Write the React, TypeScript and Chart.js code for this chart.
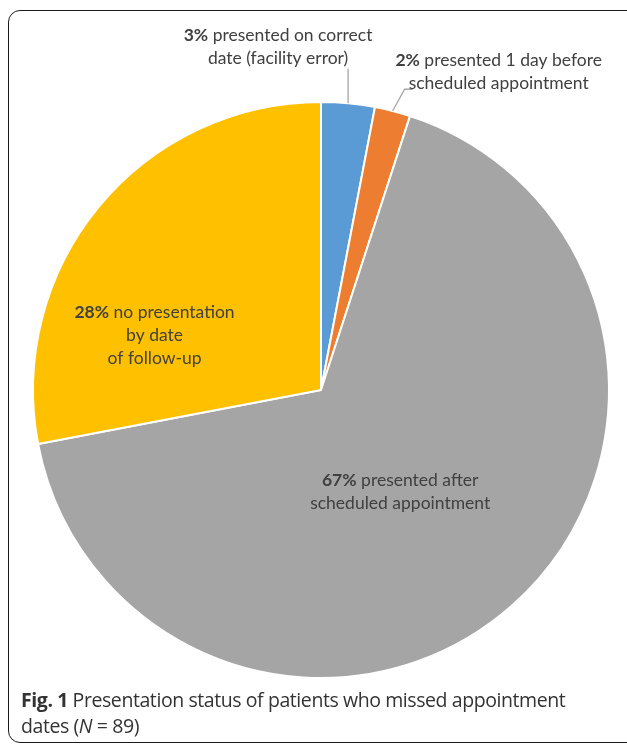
import React, { useEffect, useRef } from "react";
import { Chart, registerables } from "chart.js";

Chart.register(...registerables);

const categories = [
  "presented on correct date (facility error)",
  "presented 1 day before scheduled appointment",
  "presented after scheduled appointment",
  "no presentation by date of follow-up",
];
const values = [3, 2, 67, 28];
const percentLabels = ["3%", "2%", "67%", "28%"];
const labelLines = [
  ["presented on correct", "date (facility error)"],
  ["presented 1 day before", "scheduled appointment"],
  ["presented after", "scheduled appointment"],
  ["no presentation", "by date", "of follow-up"],
];
const colors = ["#5B9BD5", "#ED7D31", "#A5A5A5", "#FFC000"];

// label placement (in units of radius, relative to pie centre) and leader styles
const labelPlacement = [
  { dx: -0.149, dy: -1.19, leader: "vertical" },
  { dx: 0.617, dy: -1.105, leader: "elbow" },
  { dx: 0.275, dy: 0.355, leader: "none" },
  { dx: -0.578, dy: -0.19, leader: "none" },
];

const FONT = "Lato, 'Open Sans', sans-serif";
const TEXT_COLOR = "#404040";

const labelPlugin = {
  id: "pieLabels",
  afterDatasetsDraw(chart: any) {
    const meta = chart.getDatasetMeta(0);
    const ctx = chart.ctx as CanvasRenderingContext2D;
    const fs = 17.5;
    const lh = 23;
    ctx.save();
    meta.data.forEach((arc: any, i: number) => {
      const { x: cx, y: cy, outerRadius: R, startAngle, endAngle } = arc.getProps(
        ["x", "y", "outerRadius", "startAngle", "endAngle"],
        true
      );
      const p = labelPlacement[i];
      const lx = cx + p.dx * R;
      const ly = cy + p.dy * R;
      const lines = labelLines[i];
      const n = lines.length;
      const top = ly - ((n - 1) * lh) / 2;

      // leader lines
      const mid = (startAngle + endAngle) / 2;
      const ex = cx + Math.cos(mid) * R;
      const ey = cy + Math.sin(mid) * R;
      ctx.strokeStyle = "#A6A6A6";
      ctx.lineWidth = 1.3;
      if (p.leader === "vertical") {
        const labelBottom = top + (n - 1) * lh + 10;
        ctx.beginPath();
        ctx.moveTo(ex, ey);
        ctx.lineTo(ex, labelBottom);
        ctx.stroke();
      } else if (p.leader === "elbow") {
        const yLine = top + lh + 6;
        const elbowX = ex + 12;
        ctx.beginPath();
        ctx.moveTo(ex, ey);
        ctx.lineTo(elbowX, yLine);
        ctx.lineTo(elbowX + 8, yLine);
        ctx.stroke();
      }

      // text
      ctx.fillStyle = TEXT_COLOR;
      ctx.textBaseline = "middle";
      ctx.textAlign = "left";
      lines.forEach((line, j) => {
        const y = top + j * lh;
        if (j === 0) {
          ctx.font = `bold ${fs}px ${FONT}`;
          const bw = ctx.measureText(percentLabels[i]).width;
          ctx.font = `${fs}px ${FONT}`;
          const sw = ctx.measureText(" ").width;
          const rw = ctx.measureText(line).width;
          const total = bw + sw + rw;
          const x = lx - total / 2;
          ctx.font = `bold ${fs}px ${FONT}`;
          ctx.fillText(percentLabels[i], x, y);
          ctx.font = `${fs}px ${FONT}`;
          ctx.fillText(line, x + bw + sw, y);
        } else {
          ctx.font = `${fs}px ${FONT}`;
          const w = ctx.measureText(line).width;
          ctx.fillText(line, lx - w / 2, y);
        }
      });
    });
    ctx.restore();
  },
};

export default function App() {
  const canvasRef = useRef<HTMLCanvasElement | null>(null);

  useEffect(() => {
    if (!canvasRef.current) return;
    const chart = new Chart(canvasRef.current, {
      type: "pie",
      data: {
        labels: categories,
        datasets: [
          {
            data: values,
            backgroundColor: colors,
            borderColor: "#FFFFFF",
            borderWidth: 2,
          },
        ],
      },
      options: {
        animation: false,
        responsive: false,
        events: [],
        layout: { padding: { left: 32, right: 17, top: 101, bottom: 67 } },
        plugins: {
          legend: { display: false },
          tooltip: { enabled: false },
          title: { display: false },
        },
      },
      plugins: [labelPlugin],
    });
    return () => chart.destroy();
  }, []);

  return (
    <div style={{ position: "relative", width: 627, height: 746 }}>
      <div
        style={{
          position: "fixed",
          left: 8,
          top: 10,
          width: 619,
          height: 736,
          overflow: "hidden",
        }}
      >
        <div
          style={{
            position: "absolute",
            left: 0,
            top: 0,
            width: 640,
            height: 733,
            border: "1.5px solid #1a1a1a",
            borderRadius: 12,
            boxSizing: "border-box",
          }}
        />
        <div
          style={{
            position: "absolute",
            left: 13,
            top: 677,
            fontFamily: "'Open Sans', Lato, sans-serif",
            fontSize: 19.5,
            lineHeight: "26px",
            color: "#333",
            letterSpacing: -0.42,
            width: 610,
            whiteSpace: "nowrap",
          }}
        >
          <b>Fig. 1</b> Presentation status of patients who missed appointment
          <br />
          dates (<i>N</i> = 89)
        </div>
      </div>
      <canvas
        ref={canvasRef}
        width={627}
        height={746}
        style={{ position: "fixed", left: 0, top: 0, width: 627, height: 746 }}
      />
    </div>
  );
}
